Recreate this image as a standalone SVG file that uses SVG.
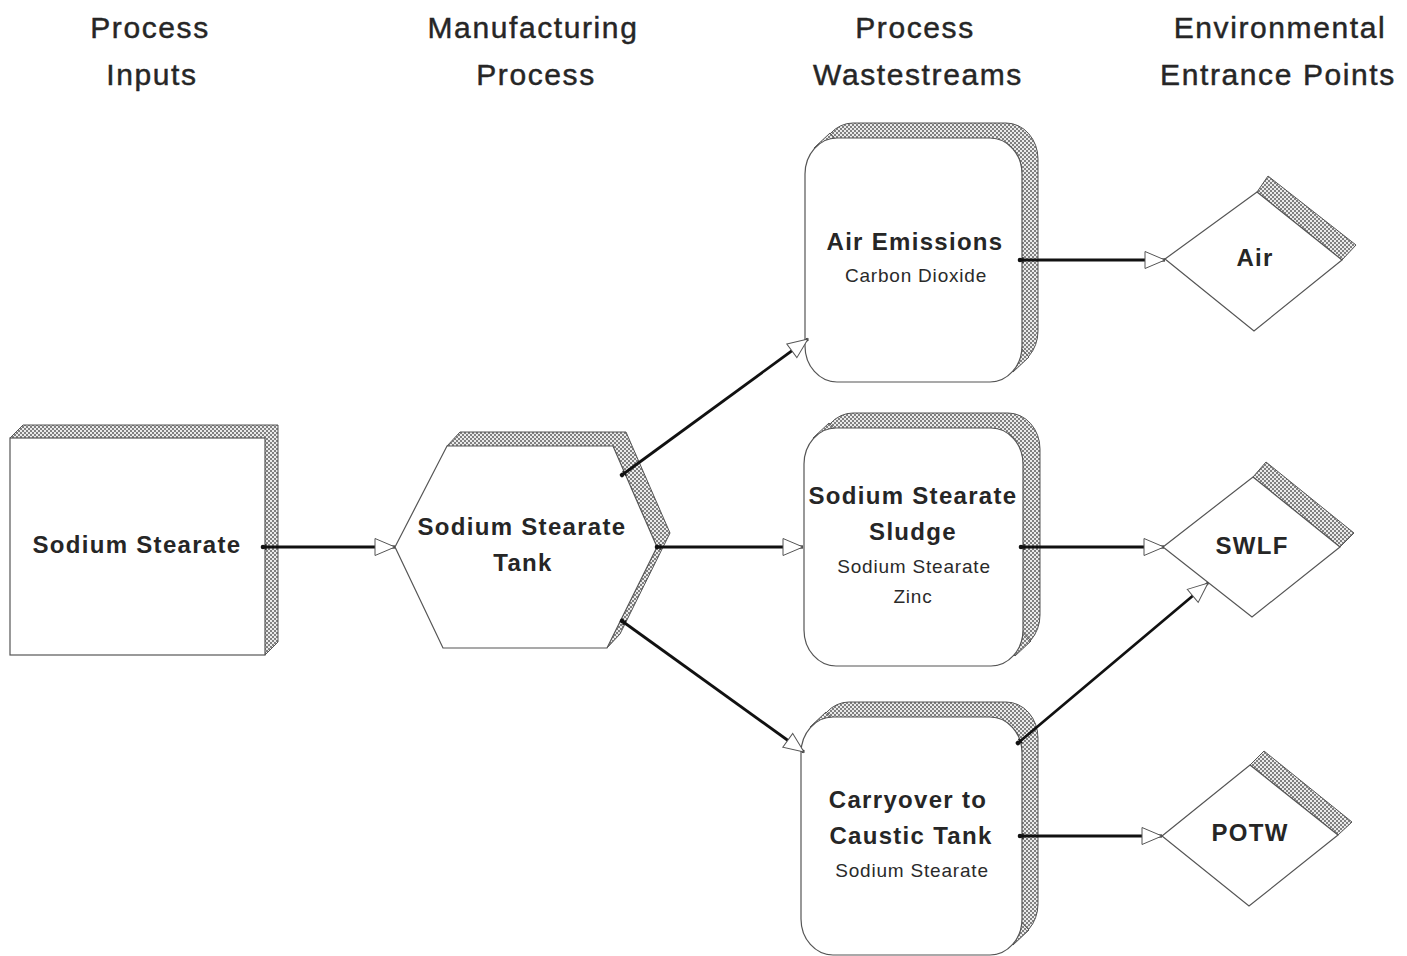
<svg xmlns="http://www.w3.org/2000/svg" width="1407" height="956" viewBox="0 0 1407 956">
  <defs>
    <!-- fine checker fill used on the 3D bevels -->
    <pattern id="hatch" width="4" height="4" patternUnits="userSpaceOnUse">
      <rect width="4" height="4" fill="#ebebeb"/>
      <rect x="0" y="0" width="2" height="2" fill="#808080"/>
      <rect x="2" y="2" width="2" height="2" fill="#808080"/>
    </pattern>
    <marker id="arrow" markerUnits="userSpaceOnUse" markerWidth="24" markerHeight="22" refX="21" refY="10" orient="auto">
      <path d="M1,1.5 L21,10 L1,18.5 Z" fill="#fff" stroke="#555" stroke-width="1"/>
    </marker>
    <marker id="tail" markerUnits="userSpaceOnUse" markerWidth="12" markerHeight="10" refX="5" refY="5" orient="auto">
      <circle cx="5" cy="5" r="2.3" fill="#111"/>
      <path d="M8,2 V8" stroke="#111" stroke-width="1.2"/>
    </marker>
  </defs>
  <style>
    .bev { fill: url(#hatch); stroke: #555; stroke-width: 1; }
    .face { fill: #fff; stroke: #555; stroke-width: 1.2; }
    .hdr { font-family: "Liberation Sans", Arial, sans-serif; font-size: 30px; letter-spacing: 1.6px; fill: #262626; stroke: #262626; stroke-width: 0.45px; text-anchor: middle; }
    .t { font-family: "Liberation Sans", Arial, sans-serif; font-size: 24px; font-weight: bold; letter-spacing: 1.3px; fill: #262626; text-anchor: middle; }
    .s { font-family: "Liberation Sans", Arial, sans-serif; font-size: 19px; letter-spacing: 0.8px; fill: #2a2a2a; text-anchor: middle; }
    .link { fill: none; stroke: #111; stroke-width: 2.8; marker-end: url(#arrow); marker-start: url(#tail); }
  </style>

  <rect width="1407" height="956" fill="#fff"/>

  <!-- column headings -->
  <g id="headings">
    <text class="hdr" x="150" y="38">Process</text>
    <text class="hdr" x="152" y="85">Inputs</text>
    <text class="hdr" x="533" y="38">Manufacturing</text>
    <text class="hdr" x="536" y="85">Process</text>
    <text class="hdr" x="915" y="38">Process</text>
    <text class="hdr" x="918" y="85">Wastestreams</text>
    <text class="hdr" x="1280" y="38">Environmental</text>
    <text class="hdr" x="1278" y="85">Entrance Points</text>
  </g>

  <!-- input: raised box -->
  <g id="node-input">
    <polygon class="bev" points="10,438 23,425 278,425 278,642 265,655"/>
    <rect class="face" x="10" y="438" width="255" height="217"/>
    <text class="t" x="137" y="553">Sodium Stearate</text>
  </g>

  <!-- process: raised hexagon -->
  <g id="node-tank">
    <polygon class="bev" points="447,446 460,432 626,432 670,533 620,634 607,648"/>
    <polygon class="face" points="395,547 447,446 613,446 657,547 607,648 443,648"/>
    <text class="t" x="522" y="535">Sodium Stearate</text>
    <text class="t" x="523" y="571">Tank</text>
  </g>

  <!-- wastestream: air emissions -->
  <g id="node-air-emissions">
    <rect class="bev" x="821" y="123" width="217" height="244" rx="32" ry="36"/>
    <polygon class="bev" points="814,148 830,133 1029,357 1013,372" stroke="none"/>
    <rect class="face" x="805" y="138" width="217" height="244" rx="32" ry="36"/>
    <text class="t" x="915" y="250">Air Emissions</text>
    <text class="s" x="916" y="282">Carbon Dioxide</text>
  </g>

  <!-- wastestream: sludge -->
  <g id="node-sludge">
    <rect class="bev" x="821" y="413" width="219" height="238" rx="32" ry="36"/>
    <polygon class="bev" points="813,438 829,423 1031,641 1015,656" stroke="none"/>
    <rect class="face" x="804" y="428" width="219" height="238" rx="32" ry="36"/>
    <text class="t" x="913" y="504">Sodium Stearate</text>
    <text class="t" x="913" y="540">Sludge</text>
    <text class="s" x="914" y="573">Sodium Stearate</text>
    <text class="s" x="913" y="603">Zinc</text>
  </g>

  <!-- wastestream: carryover -->
  <g id="node-carryover">
    <rect class="bev" x="817" y="702" width="221" height="238" rx="32" ry="36"/>
    <polygon class="bev" points="810,727 826,712 1029,930 1013,945" stroke="none"/>
    <rect class="face" x="801" y="717" width="221" height="238" rx="32" ry="36"/>
    <text class="t" x="908" y="808">Carryover to</text>
    <text class="t" x="911" y="844">Caustic Tank</text>
    <text class="s" x="912" y="877">Sodium Stearate</text>
  </g>

  <!-- entrance points: diamonds with a bevelled upper-right edge -->
  <g id="node-air">
    <polygon class="bev" points="1257,192 1268,176 1356,245 1342,260"/>
    <polygon class="face" points="1165,259 1257,192 1342,260 1254,331"/>
    <text class="t" x="1255" y="266">Air</text>
  </g>
  <g id="node-swlf">
    <polygon class="bev" points="1253,477 1266,462 1354,533 1340,547"/>
    <polygon class="face" points="1163,547 1253,477 1340,547 1252,617"/>
    <text class="t" x="1252" y="554">SWLF</text>
  </g>
  <g id="node-potw">
    <polygon class="bev" points="1250,765 1264,751 1352,822 1338,835"/>
    <polygon class="face" points="1162,836 1250,765 1338,835 1249,906"/>
    <text class="t" x="1250" y="841">POTW</text>
  </g>

  <!-- connectors -->
  <g id="connectors">
    <line class="link" x1="263" y1="547" x2="395" y2="547"/>
    <line class="link" x1="622" y1="475" x2="808" y2="339"/>
    <line class="link" x1="657" y1="547" x2="803" y2="547"/>
    <line class="link" x1="622" y1="621" x2="804" y2="752"/>
    <line class="link" x1="1020" y1="260" x2="1165" y2="260"/>
    <line class="link" x1="1021" y1="547" x2="1164" y2="547"/>
    <line class="link" x1="1018" y1="743" x2="1208" y2="583"/>
    <line class="link" x1="1020" y1="836" x2="1162" y2="836"/>
  </g>
</svg>
